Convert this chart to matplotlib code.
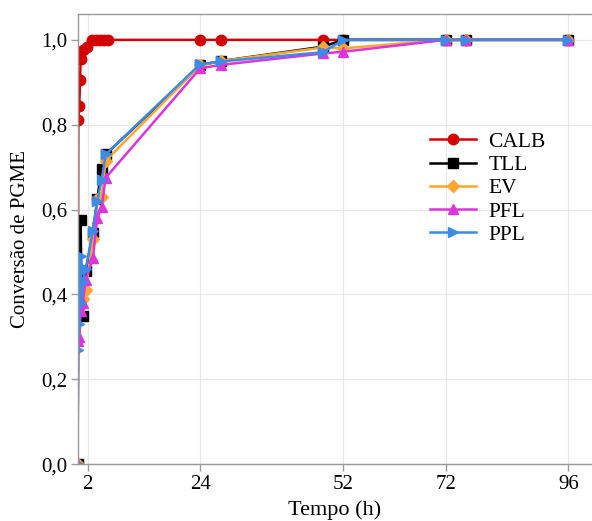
import matplotlib
matplotlib.use("Agg")
import matplotlib.pyplot as plt
from matplotlib.ticker import FuncFormatter

plt.rcParams['font.family'] = ['Liberation Serif', 'DejaVu Serif']

# Data (hours, conversion)
t_calb = [0, 0.15, 0.33, 0.5, 0.6, 1.1, 1.8, 2.75, 3.6, 4.4, 5.2, 5.9, 24, 28, 48, 52, 72, 76, 96]
calb = [0, 0.81, 0.844, 0.905, 0.955, 0.975, 0.984, 1.0, 1.0, 1.0, 1.0, 1.0, 1.0, 1.0, 1.0, 1.0, 1.0, 1.0, 1.0]

t_other = [0, 0.12, 0.35, 0.6, 0.75, 1.0, 1.6, 3.0, 3.85, 4.7, 5.5, 24, 28, 48, 52, 72, 76, 96]
tll = [0, 0.40, 0.43, 0.575, 0.43, 0.35, 0.455, 0.545, 0.625, 0.695, 0.73, 0.94, 0.95, 0.984, 1.0, 1.0, 1.0, 1.0]
ev = [0, 0.36, 0.38, 0.41, 0.40, 0.39, 0.41, 0.53, 0.625, 0.63, 0.715, 0.94, 0.95, 0.982, 0.98, 1.0, 1.0, 1.0]
pfl = [0, 0.29, 0.30, 0.36, 0.38, 0.38, 0.435, 0.485, 0.58, 0.605, 0.675, 0.933, 0.941, 0.968, 0.972, 1.0, 1.0, 1.0]
ppl = [0, 0.27, 0.33, 0.49, 0.38, 0.43, 0.46, 0.55, 0.62, 0.67, 0.73, 0.943, 0.949, 0.971, 1.0, 1.0, 1.0, 1.0]

x_ticks = [2, 24, 52, 72, 96]
y_ticks = [0.0, 0.2, 0.4, 0.6, 0.8, 1.0]

fig = plt.figure(figsize=(5.92, 5.21), dpi=100)
ax = fig.add_axes([0.131, 0.109, 0.869, 0.865])

ms = 7.5
lw = 1.8
ax.plot(t_calb, calb, color='#d40000', marker='o', ms=ms, lw=lw, label='CALB')
ax.plot(t_other, tll, color='#000000', marker='s', ms=ms - 1, lw=lw, label='TLL')
ax.plot(t_other, ev, color='#ffa531', marker='D', ms=ms - 1.5, lw=lw, label='EV')
ax.plot(t_other, pfl, color='#dc35dc', marker='^', ms=ms, lw=lw, label='PFL')
ax.plot(t_other, ppl, color='#3a8ce8', marker='>', ms=ms, lw=lw, label='PPL')

ax.set_xlim(0, 100.6)
ax.set_ylim(0, 1.062)
ax.set_xticks(x_ticks)
ax.set_yticks(y_ticks)
ax.yaxis.set_major_formatter(FuncFormatter(lambda v, p: f"{v:.1f}".replace('.', ',')))
ax.grid(True, color='#e8e8e8', lw=0.9)
ax.set_axisbelow(True)

for side in ['left', 'bottom', 'top']:
    ax.spines[side].set_color('#9a9a9a')
    ax.spines[side].set_linewidth(1.0)
ax.spines['right'].set_visible(False)
ax.tick_params(axis='both', colors='#9a9a9a', labelcolor='black', labelsize=15, length=5, width=1, pad=2.5)

ax.set_xlabel('Tempo (h)', fontsize=16, labelpad=5)
ax.set_ylabel('Conversão de PGME', fontsize=15, labelpad=8)

leg = ax.legend(loc='upper left', bbox_to_anchor=(0.669, 0.757), frameon=False, fontsize=15.5,
                handlelength=2.1, handletextpad=0.6, labelspacing=0.15, borderaxespad=0)

fig.savefig('out.png', dpi=100)
